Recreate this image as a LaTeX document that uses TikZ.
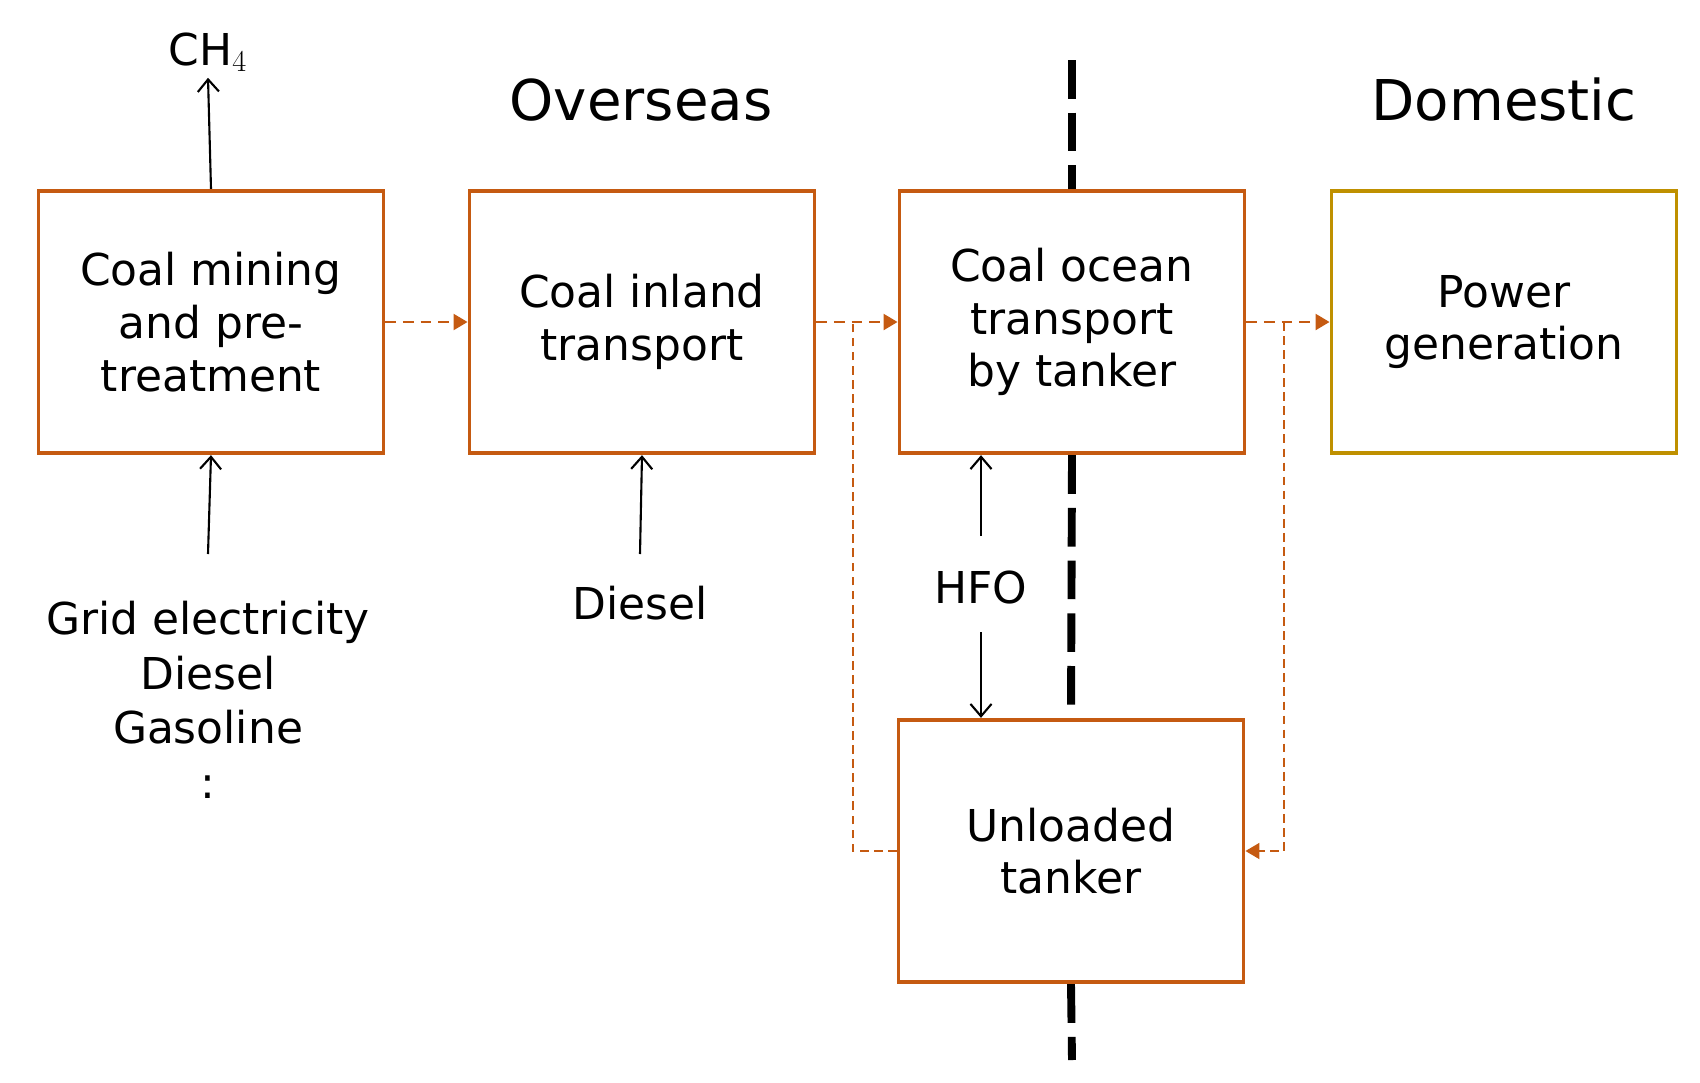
\documentclass[tikz,border=0pt]{standalone}
\usepackage{fontspec}
\setmainfont{DejaVu Sans}
\usetikzlibrary{arrows.meta}
\definecolor{rust}{RGB}{197,90,17}
\definecolor{gold}{RGB}{191,144,0}
\begin{document}
\begin{tikzpicture}[x=0.02cm,y=-0.02cm,
  box/.style={draw=rust,line width=2.2pt,minimum width=6.9cm,minimum height=5.25cm,
    align=center,font=\fontsize{25}{30}\selectfont,inner sep=0pt},
  lbl/.style={align=center,font=\fontsize{25}{30}\selectfont},
  flow/.style={draw=rust,line width=1.6pt,dash pattern=on 6pt off 4pt,-{Triangle[length=8pt,width=9pt]}},
  back/.style={draw=rust,line width=1.4pt,dash pattern=on 5pt off 3pt},
  inp/.style={line width=1.2pt,-{Straight Barb[length=7pt,width=12pt]}}]
\useasboundingbox (0,0) rectangle (1700,1082);
\node[box] (A) at (211,322) {Coal mining\\and pre-\\treatment};
\node[box] (B) at (642,322) {Coal inland\\transport};
\node[box] (C) at (1072,322) {Coal ocean\\transport\\by tanker};
\node[box,draw=gold] (D) at (1504,322) {Power\\generation};
\node[box] (E) at (1071,851) {Unloaded\\tanker};
\draw[line width=4.5pt,dash pattern=on 22pt off 8pt] (1072,60) -- (C.north);
\draw[line width=4.5pt,dash pattern=on 22pt off 8pt] (C.south) -- (E.north);
\draw[line width=4.5pt,dash pattern=on 22pt off 8pt] (E.south) -- (1072,1060);
\node[font=\fontsize{32}{38}\selectfont] (ov) at (641,100) {Overseas};
\node[font=\fontsize{32}{38}\selectfont] (dom) at (1504,100) {Domestic};
\node[lbl] (ch4) at (208,52) {CH$_4$};
\node[lbl,font=\fontsize{25}{31}\selectfont] (g) at (208,700) {Grid electricity\\Diesel\\Gasoline\\:};
\node[lbl] (dsl) at (640,603) {Diesel};
\node[lbl] (hfo) at (981,588) {HFO};
\coordinate (h1) at (981,536);
\coordinate (h2) at (981,632);
\draw[inp] (A.north) -- (ch4.south);
\draw[inp] (208,554) -- (A.south);
\draw[inp] (640,554) -- (B.south);
\draw[inp] (h1) -- (h1 |- C.south);
\draw[inp] (h2) -- (h2 |- E.north);
\draw[flow] (A.east) -- (B.west);
\draw[flow] (B.east) -- (C.west);
\draw[flow] (C.east) -- (D.west);
\coordinate (l1) at (853,322);
\coordinate (r1) at (1284,322);
\draw[back] (E.west) -- (E.west -| l1) -- (l1);
\draw[back,-{Triangle[length=8pt,width=9pt]}] (r1) -- (r1 |- E.east) -- (E.east);
\end{tikzpicture}
\end{document}
